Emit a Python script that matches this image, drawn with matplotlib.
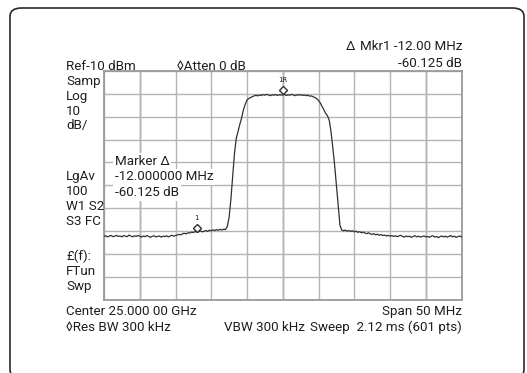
import numpy as np
import matplotlib
matplotlib.use("Agg")
import matplotlib.pyplot as plt
from matplotlib.patches import FancyBboxPatch
from matplotlib.transforms import ScaledTranslation

# ---- sweep settings -------------------------------------------------------
center_ghz = 25.0
span_mhz = 50.0
ref_level_dbm = -10.0
db_per_div = 10.0

# trace samples, 0.25 MHz apart, from -25 MHz to +25 MHz offset
trace_dbm = [
    -82.4, -82.1, -82.6, -82.2, -82.0, -82.5, -82.3, -81.9, -82.4, -82.2,
    -82.6, -82.0, -82.3, -82.5, -81.8, -82.2, -82.6, -82.1, -82.4, -82.0,
    -82.3, -82.7, -82.2, -82.5, -82.0, -82.4, -82.8, -82.3, -82.1, -82.6,
    -82.4, -82.2, -82.7, -82.3, -82.5, -82.1, -82.6, -82.2, -81.9, -82.3,
    -82.0, -81.8, -81.5, -81.7, -81.2, -81.0, -81.3, -80.8, -80.9, -80.5,
    -80.7, -80.2, -80.6, -80.3, -80.0, -80.4, -80.1, -79.8, -80.2, -79.7,
    -79.9, -79.5, -79.8, -79.4, -79.7, -79.3, -79.6, -79.2, -79.4, -78.0,
    -74.0, -66.0, -56.0, -46.0, -39.5, -36.3, -33.3, -30.5, -27.0, -24.6,
    -22.7, -22.0, -21.6, -21.2, -20.9, -20.6, -20.9, -20.5, -20.7, -20.3,
    -20.6, -20.2, -20.5, -20.8, -20.4, -20.6, -20.3, -20.7, -20.4, -20.5,
    -20.5,
    -20.3, -20.7, -20.4, -20.6, -20.2, -20.5, -20.8, -20.4, -20.6, -20.3,
    -20.7, -20.5, -20.8, -20.6, -21.0, -20.9, -21.3, -21.6, -22.1, -22.9,
    -24.0, -25.5, -27.0, -28.5, -29.6, -31.5, -36.5, -43.5, -51.0, -60.0,
    -69.0, -77.5, -79.6, -79.9, -79.6, -80.1, -79.8, -80.2, -79.9, -80.4,
    -80.1, -80.6, -80.3, -80.8, -80.5, -80.9, -81.2, -80.8, -81.3, -81.5,
    -81.2, -81.7, -81.4, -81.9, -81.6, -82.0, -81.8, -82.2, -81.9, -82.3,
    -82.0, -82.4, -82.1, -82.5, -82.2, -81.9, -82.4, -82.7, -82.2, -82.5,
    -82.3, -82.8, -82.4, -82.1, -82.6, -82.3, -82.7, -82.4, -82.2, -82.6,
    -82.4, -82.8, -82.3, -82.1, -82.7, -82.4, -82.9, -82.5, -82.2, -82.6,
    -82.3, -82.7, -82.4, -82.0, -82.6, -82.3, -82.8, -82.5, -82.2, -82.6,
]
freq_offset_mhz = np.linspace(-span_mhz / 2, span_mhz / 2, len(trace_dbm))

# delta marker: reference at centre, marker 1 at -12 MHz
ref_marker_mhz = 0.0
delta_marker_mhz = -12.0
delta_marker_db = -60.125

left_labels_top = ["Samp", "Log", "10", "dB/"]
left_labels_mid = ["LgAv", "100", "W1 S2", "S3 FC"]
left_labels_bot = ["£(f):", "FTun", "Swp"]

W, H = 527, 373
plt.rcParams["font.family"] = ["Roboto", "DejaVu Sans"]
TXT = "#1e1e1e"
FS = 9.6

fig = plt.figure(figsize=(W / 100, H / 100), dpi=100)
fig.patch.set_facecolor("white")


def px(x, y):
    return x / W, 1 - y / H


# outer rounded frame
frame = FancyBboxPatch(px(10, 378), (524 - 10) / W, (378 - 8) / H,
                       boxstyle="round,pad=0,rounding_size=0.022",
                       transform=fig.transFigure, facecolor="none",
                       edgecolor="#2a2a2a", linewidth=1.2, clip_on=False)
fig.patches.append(frame)

# graticule
gx0, gx1, gy0, gy1 = 104, 461.5, 71, 299.5
ax = fig.add_axes([gx0 / W, 1 - gy1 / H, (gx1 - gx0) / W, (gy1 - gy0) / H])
ax.set_xlim(-span_mhz / 2, span_mhz / 2)
ax.set_ylim(ref_level_dbm - 10 * db_per_div, ref_level_dbm)
ax.set_xticks(np.linspace(-span_mhz / 2, span_mhz / 2, 11))
ax.set_yticks(np.linspace(ref_level_dbm - 10 * db_per_div, ref_level_dbm, 11))
ax.tick_params(length=0, labelbottom=False, labelleft=False)
ax.grid(True, color="#b4b4b4", linewidth=1.0)
for xv in (-20, 0, 20):
    ax.axvline(xv, color="#8c8c8c", linewidth=1.0, zorder=1)
for s in ax.spines.values():
    s.set_color("#9a9a9a")
    s.set_linewidth(1.3)

ax.plot(freq_offset_mhz, trace_dbm, color="#303030", linewidth=0.9, zorder=3)

# markers (drawn just above the trace point)
ref_idx = int(np.argmin(np.abs(freq_offset_mhz - ref_marker_mhz)))
ref_val = trace_dbm[ref_idx]
mk_val = ref_val + delta_marker_db
up = ax.transData + ScaledTranslation(0, 4.5 / 100, fig.dpi_scale_trans)
for fx, fy, lab in ((ref_marker_mhz, ref_val, "1R"), (delta_marker_mhz, mk_val, "1")):
    ax.plot([fx], [fy], marker="D", markersize=4.2, markerfacecolor="white",
            markeredgecolor="#303030", markeredgewidth=1.0, transform=up,
            zorder=4, clip_on=False)
    ax.annotate(lab, (fx, fy), xytext=(0, 8.5), textcoords="offset points",
                ha="center", va="bottom", fontsize=5, color=TXT,
                family=["DejaVu Sans"], zorder=4)


def put(x, y, s, ha="left", size=FS):
    fig.text(*px(x, y), s, ha=ha, va="baseline", fontsize=size, color=TXT)


# header
put(346, 50, "Δ", size=FS)
put(462, 50, "Mkr1 -12.00 MHz", ha="right")
put(462, 67, "-60.125 dB", ha="right")
put(66, 70, "Ref-10 dBm")
put(177, 70, "◊Atten 0 dB")

# left column
for i, s in enumerate(left_labels_top):
    put(66, 85 + 14.8 * i, s)
for i, s in enumerate(left_labels_mid):
    put(66, 180 + 15.1 * i, s)
for i, s in enumerate(left_labels_bot):
    put(66, 260 + 15 * i, s)

# marker readout
for i, s in enumerate(["Marker Δ", f"{delta_marker_mhz:.6f} MHz",
                       f"{delta_marker_db:.3f} dB"]):
    fig.text(*px(115, 165 + 15.5 * i), s, ha="left", va="baseline",
             fontsize=FS, color=TXT, zorder=5,
             bbox=dict(facecolor="white", edgecolor="none", pad=1.2))

# footer
put(66, 315, f"Center {center_ghz:.3f} 00 GHz")
put(462, 315, f"Span {span_mhz:.0f} MHz", ha="right")
put(66, 331, "◊Res BW 300 kHz")
put(224, 331, "VBW 300 kHz")
put(462, 331, "Sweep  2.12 ms (601 pts)", ha="right")

fig.savefig("out.png", dpi=100, facecolor="white")
